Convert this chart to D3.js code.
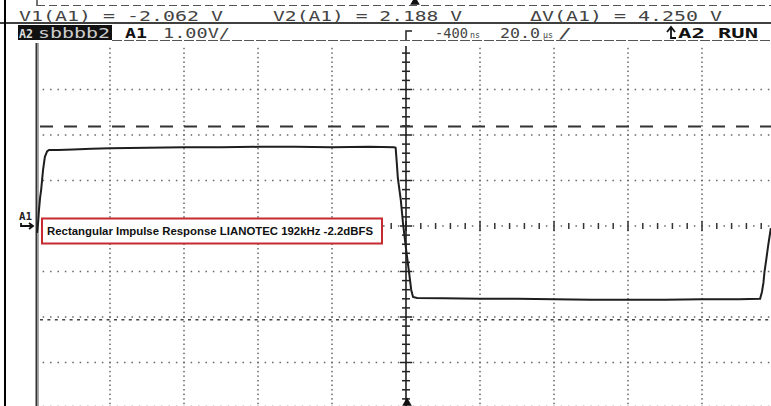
<!DOCTYPE html>
<html>
<head>
<meta charset="utf-8">
<script src="https://cdn.jsdelivr.net/npm/d3@7"></script>
<style>
  body { margin: 0; background: #fff; }
  svg { display: block; }
  .scope { font-family: "DejaVu Sans Mono", monospace; }
</style>
</head>
<body>
<div class="scope-wrap"></div>
<script>
// scope readout
var timeUs = [-99.7, -99.4, -99.2, -98.9, -98.6, -98.1, -97.6, -97.0, -96.5, -94.0, -90.0, -85.0, -80.0, -70.0, -60.0, -50.0, -40.0, -30.0, -20.0, -10.0, -3.2,
              -2.8, -2.5, -2.2, -1.4, -0.8, 0.0, 0.8, 1.4, 1.9, 3.0, 10.0, 20.0, 30.0, 40.0, 50.0, 60.0, 70.0, 80.0, 90.0, 95.7,
              96.2, 96.6, 96.9, 97.4, 97.9, 98.6];
var volts  = [-0.15, 0.10, 0.35, 0.62, 0.80, 1.23, 1.52, 1.64, 1.67, 1.67, 1.68, 1.70, 1.71, 1.72, 1.73, 1.73, 1.74, 1.74, 1.73, 1.74, 1.73,
              1.72, 1.40, 1.05, 0.57, 0.05, -0.50, -1.00, -1.40, -1.56, -1.58, -1.59, -1.60, -1.60, -1.61, -1.62, -1.62, -1.62, -1.61, -1.61, -1.60,
              -1.45, -1.25, -1.00, -0.72, -0.42, -0.05];

var cursorV1 = -2.062;
var cursorV2 = 2.188;
var deltaV = 4.250;
var voltsPerDiv = "1.00V/";
var triggerDelay = "-400";
var timePerDiv = "20.0";
var annotation = "Rectangular Impulse Response LIANOTEC 192kHz -2.2dBFS";

var svgWidth = 771;
var svgHeight = 406;

var svg = d3.select(".scope-wrap")
    .append("svg")
    .attr("width", svgWidth)
    .attr("height", svgHeight)
    .attr("class", "scope");

// 10 div x 20us, 8 div x 1V
var xScale = d3.scaleLinear().domain([-100, 100]).range([36, 776]);
var yScale = d3.scaleLinear().domain([-4, 4]).range([408, 44]);

var xDivs = d3.range(-100, 101, 20);
var yDivs = d3.range(-3, 4, 1);

var grid = svg.append("g");

// dotted vertical grid lines
xDivs.filter(d => d !== 0 && d !== -100).forEach(function(t) {
    grid.selectAll(null)
        .data(d3.range(-4, 4.01, 0.1).filter(v => yScale(v) > 46))
        .enter()
        .append("rect")
        .attr("x", xScale(t) - 0.75)
        .attr("y", v => yScale(v) - 0.75)
        .attr("width", 1.5)
        .attr("height", 1.5)
        .attr("fill", "#666");
});

// dotted horizontal grid lines (and bottom edge)
yDivs.filter(d => d !== 0).concat([-3.96]).forEach(function(v) {
    grid.selectAll(null)
        .data(d3.range(-98, 100.1, 2).filter(t => xScale(t) < svgWidth))
        .enter()
        .append("rect")
        .attr("x", t => xScale(t) - 0.75)
        .attr("y", yScale(v) - 0.75)
        .attr("width", 1.5)
        .attr("height", 1.5)
        .attr("fill", v === -3.96 ? "#bbb" : "#666");
});

// centre horizontal axis with minor ticks
var y0 = yScale(0);
grid.selectAll(null)
    .data(d3.range(-96, 100.1, 4).filter(t => xScale(t) < svgWidth))
    .enter()
    .append("line")
    .attr("x1", t => xScale(t))
    .attr("x2", t => xScale(t))
    .attr("y1", t => y0 - (t % 20 === 0 ? 5 : 3))
    .attr("y2", t => y0 + (t % 20 === 0 ? 5 : 3))
    .attr("stroke", "#333")
    .attr("stroke-width", 1.5);
grid.selectAll(null)
    .data(d3.range(-98, 100.1, 4).filter(t => xScale(t) < svgWidth))
    .enter()
    .append("rect")
    .attr("x", t => xScale(t) - 0.75)
    .attr("y", y0 - 0.75)
    .attr("width", 1.5)
    .attr("height", 1.5)
    .attr("fill", "#666");

// centre vertical axis with minor ticks
var x0 = xScale(0);
grid.append("line")
    .attr("x1", x0).attr("x2", x0)
    .attr("y1", 46).attr("y2", 408)
    .attr("stroke", "#111")
    .attr("stroke-width", 1.5);
grid.selectAll(null)
    .data(d3.range(-3.8, 4.0, 0.2))
    .enter()
    .append("line")
    .attr("x1", v => x0 - (Math.abs(v - Math.round(v)) < 0.01 ? 6 : 4))
    .attr("x2", v => x0 + (Math.abs(v - Math.round(v)) < 0.01 ? 6 : 4))
    .attr("y1", v => yScale(v))
    .attr("y2", v => yScale(v))
    .attr("stroke", "#222")
    .attr("stroke-width", 1.5);

// left edge of graticule
grid.append("line")
    .attr("x1", 36.5).attr("x2", 36.5)
    .attr("y1", 43).attr("y2", 406)
    .attr("stroke", "#333").attr("stroke-width", 2);
grid.append("line")
    .attr("x1", 38.5).attr("x2", 38.5)
    .attr("y1", 43).attr("y2", 406)
    .attr("stroke", "#aaa").attr("stroke-width", 1);

// cursors
svg.append("line")
    .attr("x1", 40).attr("x2", svgWidth)
    .attr("y1", yScale(cursorV2)).attr("y2", yScale(cursorV2))
    .attr("stroke", "#333")
    .attr("stroke-width", 2)
    .attr("stroke-dasharray", "13,11");
svg.append("line")
    .attr("x1", 40).attr("x2", svgWidth)
    .attr("y1", yScale(cursorV1)).attr("y2", yScale(cursorV1))
    .attr("stroke", "#444")
    .attr("stroke-width", 1.5)
    .attr("stroke-dasharray", "3,4.4");

// trace
var line = d3.line()
    .x((d, i) => xScale(timeUs[i]))
    .y(d => yScale(d));

svg.append("path")
    .datum(volts)
    .attr("d", line)
    .attr("fill", "none")
    .attr("stroke", "#1e1e1e")
    .attr("stroke-width", 2);

// trigger markers
svg.append("path")
    .attr("d", d3.symbol().type(d3.symbolTriangle).size(40)())
    .attr("transform", `translate(${x0 + 1}, 403)`)
    .attr("fill", "#111");
svg.append("path")
    .attr("d", d3.symbol().type(d3.symbolTriangle).size(40)())
    .attr("transform", `translate(${x0 + 9}, 2)`)
    .attr("fill", "#111");

// frame lines
svg.append("line")
    .attr("x1", 5).attr("x2", 5)
    .attr("y1", 0).attr("y2", svgHeight)
    .attr("stroke", "#000").attr("stroke-width", 2);
svg.append("line")
    .attr("x1", 0).attr("x2", svgWidth)
    .attr("y1", 23).attr("y2", 23)
    .attr("stroke", "#000").attr("stroke-width", 1.5);
svg.append("line")
    .attr("x1", 37).attr("x2", 37)
    .attr("y1", 0).attr("y2", 6)
    .attr("stroke", "#444").attr("stroke-width", 1.5);
svg.append("line")
    .attr("x1", 37).attr("x2", svgWidth)
    .attr("y1", 5.5).attr("y2", 5.5)
    .attr("stroke", "#555").attr("stroke-width", 1.2)
    .attr("stroke-dasharray", "8,4");

// readout row 1
var row1 = [
    {text: "V1(A1) = " + cursorV1.toFixed(3) + " V", x: 19, w: 204},
    {text: "V2(A1) = " + cursorV2.toFixed(3) + " V", x: 273, w: 189},
    {text: "\u0394V(A1) = " + deltaV.toFixed(3) + " V", x: 530, w: 192}
];
svg.selectAll("text.row1")
    .data(row1)
    .enter()
    .append("text")
    .attr("class", "row1")
    .attr("x", d => d.x)
    .attr("y", 21)
    .attr("font-size", 14)
    .attr("fill", "#444")
    .attr("textLength", d => d.w)
    .attr("lengthAdjust", "spacingAndGlyphs")
    .text(d => d.text);

// readout row 2
svg.append("line")
    .attr("x1", 112).attr("x2", svgWidth)
    .attr("y1", 40.5).attr("y2", 40.5)
    .attr("stroke", "#555").attr("stroke-width", 1.2)
    .attr("stroke-dasharray", "10,2");
svg.append("rect")
    .attr("x", 18).attr("y", 25)
    .attr("width", 94).attr("height", 15)
    .attr("fill", "#111");
svg.append("text")
    .attr("x", 19).attr("y", 38)
    .attr("font-size", 13).attr("font-weight", "bold")
    .attr("fill", "#ddd")
    .attr("textLength", 14).attr("lengthAdjust", "spacingAndGlyphs")
    .text("A2");
svg.append("text")
    .attr("x", 38).attr("y", 38)
    .attr("font-size", 14)
    .attr("fill", "#ccc")
    .attr("textLength", 72).attr("lengthAdjust", "spacingAndGlyphs")
    .text("sbbbb2");

var row2 = [
    {text: "A1", x: 125, w: 22, bold: true, size: 14},
    {text: voltsPerDiv, x: 163, w: 67, bold: false, size: 14},
    {text: "RUN", x: 718, w: 40, bold: true, size: 14},
    {text: "A2", x: 678, w: 27, bold: true, size: 14},
    {text: triggerDelay, x: 435, w: 33, bold: false, size: 14},
    {text: "ns", x: 470, w: 10, bold: false, size: 8},
    {text: timePerDiv, x: 500, w: 40, bold: false, size: 14},
    {text: "\u00b5s", x: 543, w: 10, bold: false, size: 8},
    {text: "/", x: 558, w: 14, bold: false, size: 14}
];
row2.forEach(function(d) {
    svg.append("rect")
        .attr("x", d.x - 2).attr("y", 26)
        .attr("width", d.w + 4).attr("height", 14)
        .attr("fill", "#fff");
    svg.append("text")
        .attr("x", d.x).attr("y", 38)
        .attr("font-size", d.size)
        .attr("font-weight", d.bold ? "bold" : "normal")
        .attr("fill", d.bold ? "#111" : "#444")
        .attr("textLength", d.w).attr("lengthAdjust", "spacingAndGlyphs")
        .text(d.text);
});

// trigger edge symbol (rising edge arrow) before A2
svg.append("rect").attr("x", 665).attr("y", 26).attr("width", 12).attr("height", 14).attr("fill", "#fff");
svg.append("path")
    .attr("d", "M667,32 L671,27 L675,32 M671,27 L671,38 L676,38")
    .attr("fill", "none").attr("stroke", "#111").attr("stroke-width", 1.8);

// trigger point symbol on centre line
svg.append("rect").attr("x", 400).attr("y", 26).attr("width", 16).attr("height", 14).attr("fill", "#fff");
svg.append("path")
    .attr("d", `M${x0 + 6},31 L${x0},31 L${x0},40`)
    .attr("fill", "none").attr("stroke", "#222").attr("stroke-width", 1.5);

// channel marker A1
svg.append("text")
    .attr("x", 19).attr("y", 220)
    .attr("font-size", 10).attr("font-weight", "bold")
    .attr("fill", "#222")
    .attr("textLength", 13).attr("lengthAdjust", "spacingAndGlyphs")
    .text("A1");
svg.append("path")
    .attr("d", `M21,223 L21,${y0} L33,${y0} M29,${y0 - 3} L33,${y0} L29,${y0 + 3}`)
    .attr("fill", "none").attr("stroke", "#111").attr("stroke-width", 1.8);

// annotation label
svg.append("rect")
    .attr("x", 42).attr("y", 218.5)
    .attr("width", 340).attr("height", 25)
    .attr("fill", "#fff")
    .attr("stroke", "#c42a30")
    .attr("stroke-width", 2);
svg.append("text")
    .attr("x", 47).attr("y", 235)
    .attr("font-family", "'Liberation Sans', Arial, sans-serif")
    .attr("font-size", 11)
    .attr("font-weight", "bold")
    .attr("fill", "#111")
    .attr("textLength", 326).attr("lengthAdjust", "spacingAndGlyphs")
    .text(annotation);
</script>
</body>
</html>
